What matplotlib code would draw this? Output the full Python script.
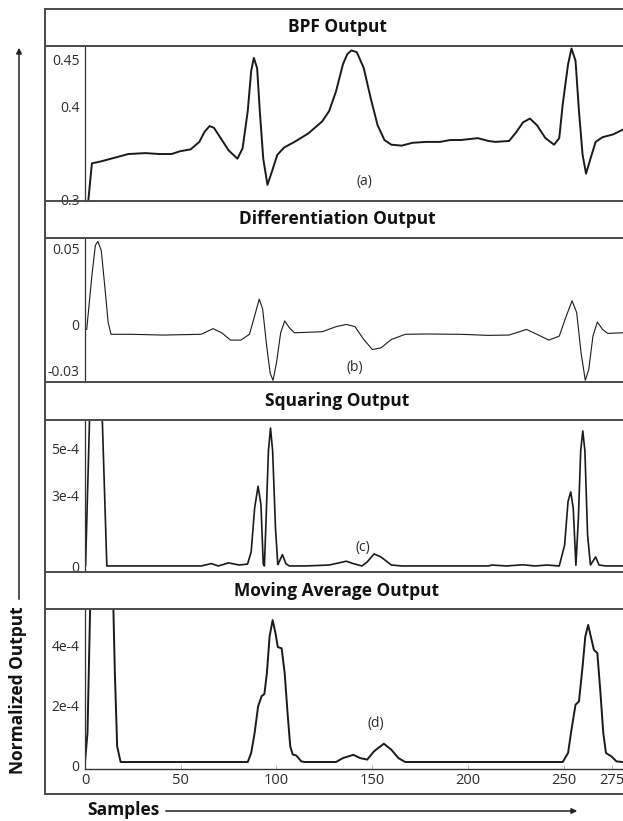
import matplotlib
matplotlib.use("Agg")
import matplotlib.pyplot as plt
from matplotlib.lines import Line2D
from matplotlib.patches import FancyArrowPatch

plt.rcParams['font.family'] = ['Open Sans', 'DejaVu Sans']

# ---------------- data ----------------
titles = ["BPF Output", "Differentiation Output", "Squaring Output", "Moving Average Output"]
tags = ["(a)", "(b)", "(c)", "(d)"]

bpf_x = [1.3, 3.6, 8.1, 15.4, 22.6, 31.6, 38.9, 45.2, 49.7, 55.2, 59.7, 62.5, 65.1, 67.4, 69.6, 75.0, 79.6, 82.3,
         85.0, 86.8, 88.2, 89.9, 91.3, 93.1, 95.3, 97.6, 100.4, 104.0, 109.4, 116.6, 123.9, 127.5,
         131.1, 134.7, 137.0, 139.2, 142.0, 145.6, 149.2, 152.8, 156.4, 160.0, 165.5, 170.9, 178.1, 185.4,
         190.8, 196.2, 205.2, 210.7, 214.3, 221.5, 225.1, 228.8, 232.4, 236.0, 240.5, 245.0, 247.7,
         249.5, 252.3, 254.1, 256.2, 258.0, 259.9, 261.7, 264.0, 266.7, 270.3, 275.8, 280.8]
bpf_y = [0.290, 0.339, 0.341, 0.345, 0.349, 0.350, 0.349, 0.349, 0.352, 0.354, 0.362, 0.373, 0.379, 0.377, 0.370,
         0.353, 0.344, 0.355, 0.395, 0.438, 0.452, 0.441, 0.395, 0.344, 0.316, 0.330, 0.348, 0.356,
         0.362, 0.371, 0.384, 0.395, 0.416, 0.445, 0.456, 0.460, 0.458, 0.441, 0.409, 0.380, 0.364, 0.359,
         0.358, 0.361, 0.362, 0.362, 0.364, 0.364, 0.366, 0.363, 0.362, 0.363, 0.372, 0.383, 0.387,
         0.380, 0.366, 0.359, 0.366, 0.402, 0.445, 0.462, 0.449, 0.395, 0.348, 0.328, 0.344, 0.362,
         0.367, 0.370, 0.375]

diff_x = [0.9, 3.6, 5.4, 6.7, 8.5, 10.3, 12.1, 13.6, 24.4, 40.7, 60.6, 66.9, 71.4, 76.0, 81.4, 85.9,
          88.6, 91.0, 92.8, 94.9, 96.7, 98.2, 100.0, 102.2, 104.3, 106.7, 109.4, 123.9, 131.1, 136.5,
          141.0, 145.6, 150.1, 154.6, 160.0, 167.3, 178.1, 196.2, 210.7, 221.5, 230.6, 236.0, 242.3,
          247.7, 251.4, 254.4, 256.8, 259.1, 261.3, 263.1, 265.3, 267.6, 270.3, 273.0, 280.8]
diff_y = [-0.0032, 0.0321, 0.0519, 0.0546, 0.0486, 0.0255, 0.0013, -0.0064, -0.0064, -0.0069,
          -0.0064, -0.0027, -0.0054, -0.0102, -0.0102, -0.0064, 0.0057, 0.0167, 0.0101, -0.0142,
          -0.0318, -0.0366, -0.0252, -0.0054, 0.0024, -0.0020, -0.0054, -0.0047, -0.0014, 0.0001,
          -0.0014, -0.0098, -0.0164, -0.0153, -0.0098, -0.0064, -0.0062, -0.0064, -0.0071, -0.0069,
          -0.0032, -0.0064, -0.0102, -0.0076, 0.0057, 0.0156, 0.0079, -0.0186, -0.0366, -0.0296,
          -0.0076, 0.0017, -0.0032, -0.0058, -0.0054]

# squaring output, in units of 1e-4
sq_x = [0.3, 2.4, 4.5, 6.7, 8.5, 9.0, 11.4, 20, 40, 60.6, 66.0, 69.6, 75.0, 80.5, 84.9, 86.8, 88.6,
        90.4, 91.9, 93.1, 93.7, 94.6, 95.8, 96.9, 98.0, 99.5, 100.7, 101.4, 103.1, 104.9, 106.7, 115,
        127.5, 136.5, 140.1, 144.7, 147.4, 151.0, 154.6, 160.0, 165.5, 190, 210.7, 212.5, 220, 228.8,
        235, 241.4, 247.7, 250.5, 252.3, 253.7, 255.0, 256.4, 257.7, 258.9, 260.0, 261.1, 262.5,
        264.0, 266.7, 268.5, 272.1, 280.8]
sq_y_e4 = [0.05, 6.3, 18, 29, 18, 6.3, 0.02, 0.02, 0.02, 0.02, 0.12, 0.02, 0.15, 0.06, 0.10, 0.62,
           2.47, 3.39, 2.61, 0.10, 0.02, 2.04, 4.88, 5.85, 4.88, 1.61, 0.08, 0.19, 0.50, 0.12, 0.02,
           0.02, 0.06, 0.22, 0.12, 0.02, 0.19, 0.53, 0.40, 0.06, 0.02, 0.02, 0.02, 0.06, 0.02, 0.07,
           0.02, 0.06, 0.02, 0.90, 2.75, 3.15, 2.47, 0.05, 2.04, 4.88, 5.73, 4.88, 1.33, 0.06, 0.40,
           0.06, 0.02, 0.02]

# moving average output, in units of 1e-4
ma_x = [0.0, 1.3, 2.7, 5, 9, 13, 14.8, 15.6, 16.8, 18.6, 50, 85.0, 86.8, 88.6, 90.4, 92.2, 93.7,
        95.0, 96.4, 98.0, 99.5, 100.7, 102.7, 104.3, 105.8, 107.2, 108.5, 110.3, 113.0, 114.8, 131.1,
        134.7, 140.1, 143.8, 147.4, 151.0, 156.1, 160.0, 163.7, 167.3, 210, 249.5, 252.3, 254.1,
        256.2, 258.0, 259.9, 261.3, 262.8, 264.6, 265.8, 267.6, 269.1, 270.7, 272.1, 274.9, 277.6,
        280.8]
ma_y_e4 = [0.10, 1.07, 5.28, 9, 12, 9, 5.28, 3.06, 0.62, 0.10, 0.10, 0.10, 0.40, 1.07, 1.95, 2.29,
           2.37, 3.06, 4.28, 4.83, 4.39, 3.93, 3.89, 3.06, 1.73, 0.62, 0.35, 0.32, 0.12, 0.10, 0.10,
           0.23, 0.34, 0.23, 0.18, 0.46, 0.71, 0.51, 0.23, 0.10, 0.10, 0.10, 0.40, 1.18, 2.01, 2.12,
           3.29, 4.28, 4.67, 4.17, 3.84, 3.73, 2.51, 1.07, 0.40, 0.29, 0.12, 0.10]

x_ticks = [0, 50, 100, 150, 200, 250, 275]
x_ticklabels = ["0", "50", "100", "150", "200", "250", "275"]

yt_a = [0.3, 0.4, 0.45]; ytl_a = ["0.3", "0.4", "0.45"]
yt_b = [-0.03, 0.0, 0.05]; ytl_b = ["-0.03", "0", "0.05"]
yt_c = [0.0, 3e-4, 5e-4]; ytl_c = ["0", "3e-4", "5e-4"]
yt_d = [0.0, 2e-4, 4e-4]; ytl_d = ["0", "2e-4", "4e-4"]

# ---------------- layout (pixels) ----------------
W, H = 623, 821
fig = plt.figure(figsize=(W / 100, H / 100), dpi=100)
fig.patch.set_facecolor("white")

def fx(px):
    return px / W

def fy(py):
    return 1 - py / H

line_col = "#4a4a4a"
txt_col = "#2b2b2b"

panels = [(46, 201), (238, 382), (420, 572), (609, 769)]
bands = [(9, 46), (201, 238), (382, 420), (572, 609)]
ax_left, ax_right = 85, 623

series = [
    (bpf_x, bpf_y, 1.0, (0.2987, 0.4647), yt_a, ytl_a, 1.4),
    (diff_x, diff_y, 1.0, (-0.0377, 0.0568), yt_b, ytl_b, 0.8),
    (sq_x, sq_y_e4, 1e-4, (-0.235e-4, 6.19e-4), yt_c, ytl_c, 1.2),
    (ma_x, ma_y_e4, 1e-4, (-0.133e-4, 5.2e-4), yt_d, ytl_d, 1.4),
]
tag_pos = [(145.7, 0.3201), (141.0, -0.0279), (145.2, 0.82e-4), (152.0, 1.37e-4)]

for i, ((top, bot), (xs, ys, scale, ylim, yt, ytl, lw)) in enumerate(zip(panels, series)):
    ax = fig.add_axes([fx(ax_left), fy(bot), fx(ax_right - ax_left), (bot - top) / H])
    ax.plot(xs, [v * scale for v in ys], color="#1a1a1a", lw=lw, solid_joinstyle="round")
    ax.set_xlim(0, 281)
    ax.set_ylim(*ylim)
    ax.set_yticks(yt)
    ax.set_yticklabels(ytl)
    ax.tick_params(axis="y", length=0, pad=4, labelsize=10, labelcolor=txt_col)
    for s in ["top", "right", "bottom"]:
        ax.spines[s].set_visible(False)
    ax.spines["left"].set_color("#333333")
    ax.spines["left"].set_linewidth(0.9)
    if i == 3:
        ax.set_xticks(x_ticks)
        ax.set_xticklabels(x_ticklabels)
        ax.tick_params(axis="x", direction="in", length=3, width=0.6, color="#aaaaaa",
                       pad=3, labelsize=10.5, labelcolor=txt_col)
        ax.spines["bottom"].set_visible(True)
        ax.spines["bottom"].set_color("#333333")
        ax.spines["bottom"].set_linewidth(1.0)
    else:
        ax.set_xticks([])
    ax.text(tag_pos[i][0], tag_pos[i][1], tags[i], ha="center", va="center",
            fontsize=10, color=txt_col)

for (top, bot), t in zip(bands, titles):
    fig.text(fx(337), fy((top + bot) / 2), t, ha="center", va="center",
             fontsize=12.5, fontweight="bold", color="#111111")

for py in [9, 46, 201, 238, 382, 420, 572, 609, 794]:
    fig.add_artist(Line2D([fx(45), fx(623)], [fy(py), fy(py)], color=line_col, lw=1.4))
fig.add_artist(Line2D([fx(45), fx(45)], [fy(9), fy(794)], color=line_col, lw=1.4))

fig.add_artist(FancyArrowPatch((fx(19), fy(602)), (fx(19), fy(45)), transform=fig.transFigure,
                               arrowstyle="-|>", mutation_scale=8, color="#222222", lw=1.1))
fig.text(fx(18.5), fy(690), "Normalized Output", rotation=90, ha="center", va="center",
         fontsize=12.5, fontweight="bold", color="#111111")
fig.add_artist(FancyArrowPatch((fx(163), fy(811)), (fx(580), fy(811)), transform=fig.transFigure,
                               arrowstyle="-|>", mutation_scale=8, color="#222222", lw=1.1))
fig.text(fx(87), fy(810), "Samples", ha="left", va="center",
         fontsize=12.5, fontweight="bold", color="#111111")

fig.savefig("out.png", dpi=100, facecolor="white")
